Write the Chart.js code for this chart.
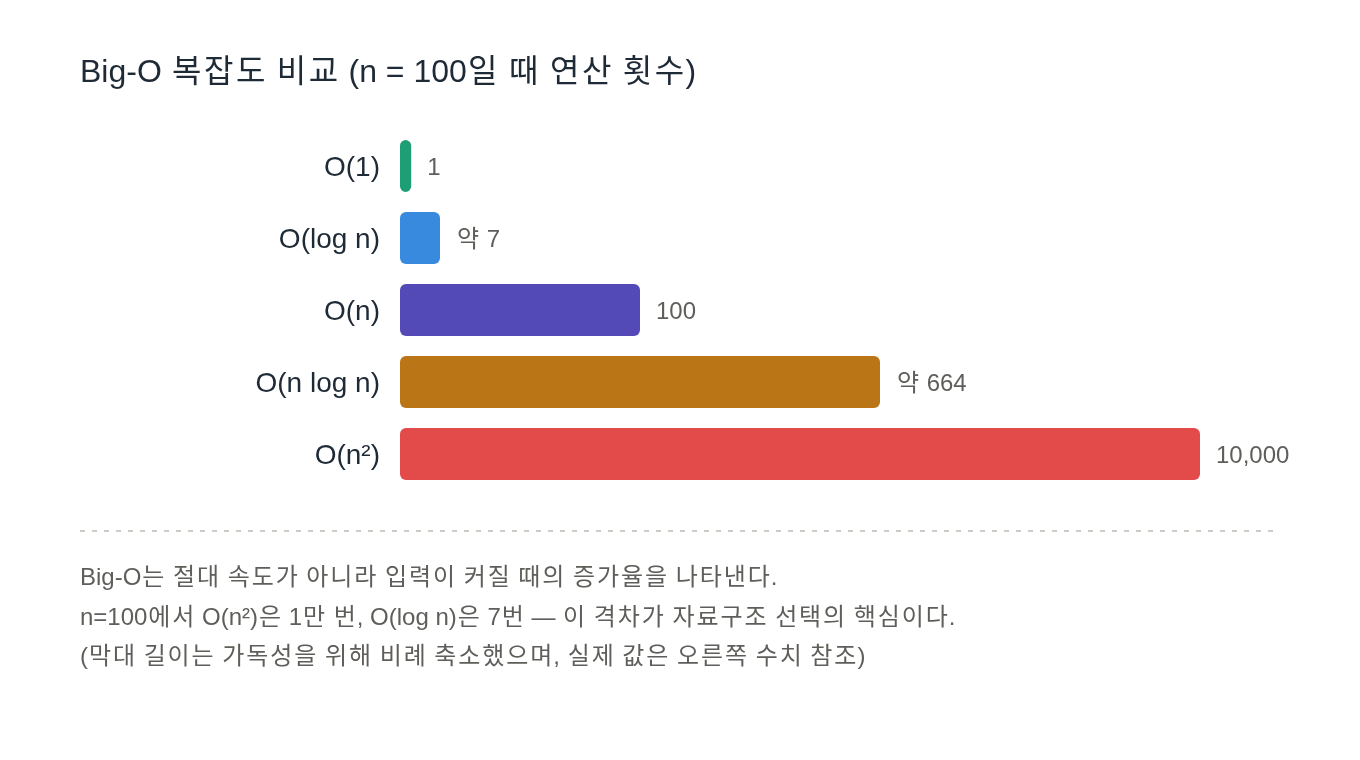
<!DOCTYPE html>
<html>
<head>
<meta charset="utf-8">
<script src="https://cdn.jsdelivr.net/npm/chart.js@4.4.1/dist/chart.umd.min.js"></script>
<style>
  html, body { margin: 0; padding: 0; background: #ffffff; }
  body { width: 1360px; height: 760px; position: relative; overflow: hidden;
         font-family: "Liberation Sans", "Noto Sans CJK KR", sans-serif; }
  #title { position: absolute; left: 80px; top: 51px; font-size: 32px; line-height: 40px;
           color: #1f2a37; white-space: nowrap; }
  #chartWrap { position: absolute; left: 0; top: 0; width: 1360px; height: 760px; }
  #divider { position: absolute; left: 80px; top: 530px; }
  #note { position: absolute; left: 80px; top: 557px; font-size: 24px; line-height: 39.6px;
          color: #5f5e5a; white-space: nowrap; }
</style>
</head>
<body>
<div id="chartWrap"><canvas id="c" width="1360" height="760"></canvas></div>
<div id="title">Big-O 복잡도 비교 (n = 100일 때 연산 횟수)</div>
<svg id="divider" width="1200" height="4"><line x1="0" y1="1" x2="1195" y2="1" stroke="#cccbc6" stroke-width="2" stroke-dasharray="5 7"/></svg>
<div id="note">Big-O는 절대 속도가 아니라 입력이 커질 때의 증가율을 나타낸다.<br>n=100에서 O(n²)은 1만 번, O(log n)은 7번 — 이 격차가 자료구조 선택의 핵심이다.<br>(막대 길이는 가독성을 위해 비례 축소했으며, 실제 값은 오른쪽 수치 참조)</div>
<script>
// ---- data ----
const categories = ['O(1)', 'O(log n)', 'O(n)', 'O(n log n)', 'O(n²)'];
const barLengths = [1.4, 5, 30, 60, 100];          // scaled (display) lengths
const valueLabels = ['1', '약 7', '100', '약 664', '10,000']; // actual operation counts
const barColors = ['#1d9e75', '#378add', '#534ab7', '#ba7517', '#e24b4a'];

const FONT = '"Liberation Sans", "Noto Sans CJK KR", sans-serif';
const HANGUL = /[\uAC00-\uD7A3\u3131-\u318E]/;

// Hangul in the reference sits in a full 1em cell; measure ours and pad evenly.
const mctx = document.createElement('canvas').getContext('2d');
mctx.font = '100px ' + FONT;
const hangulAdvance = mctx.measureText('가').width / 100;
const hangulPad = Math.max(0, 1 - hangulAdvance);

function wrapHangul(el) {
  const walker = document.createTreeWalker(el, NodeFilter.SHOW_TEXT);
  const nodes = [];
  while (walker.nextNode()) nodes.push(walker.currentNode);
  nodes.forEach(node => {
    const parts = node.textContent.split(/([\uAC00-\uD7A3\u3131-\u318E]+)/);
    if (parts.length === 1) return;
    const frag = document.createDocumentFragment();
    parts.forEach(p => {
      if (!p) return;
      if (HANGUL.test(p)) {
        const s = document.createElement('span');
        s.style.letterSpacing = hangulPad + 'em';
        s.style.marginLeft = (hangulPad / 2) + 'em';
        s.style.marginRight = (-hangulPad / 2) + 'em';
        s.textContent = p;
        frag.appendChild(s);
      } else {
        frag.appendChild(document.createTextNode(p));
      }
    });
    node.parentNode.replaceChild(frag, node);
  });
}
wrapHangul(document.getElementById('title'));
wrapHangul(document.getElementById('note'));

function drawMixedText(ctx, text, x, y, size) {
  let cx = x;
  for (const ch of text) {
    const w = ctx.measureText(ch).width;
    if (HANGUL.test(ch)) {
      ctx.fillText(ch, cx + hangulPad * size / 2, y);
      cx += w + hangulPad * size;
    } else {
      ctx.fillText(ch, cx, y);
      cx += w;
    }
  }
}

const valueLabelPlugin = {
  id: 'valueLabels',
  afterDatasetsDraw(chart) {
    const ctx = chart.ctx;
    const meta = chart.getDatasetMeta(0);
    ctx.save();
    ctx.font = '24px ' + FONT;
    ctx.fillStyle = '#5f5e5a';
    ctx.textAlign = 'left';
    ctx.textBaseline = 'middle';
    meta.data.forEach((bar, i) => {
      drawMixedText(ctx, valueLabels[i], bar.x + 16, bar.y + 2, 24);
    });
    ctx.restore();
  }
};

new Chart(document.getElementById('c'), {
  type: 'bar',
  data: {
    labels: categories,
    datasets: [{
      data: barLengths,
      backgroundColor: barColors,
      borderRadius: 6,
      borderSkipped: false
    }]
  },
  options: {
    indexAxis: 'y',
    responsive: false,
    devicePixelRatio: 1,
    animation: false,
    layout: { padding: { left: 0, right: 160, top: 130, bottom: 270 } },
    plugins: { legend: { display: false }, tooltip: { enabled: false }, title: { display: false } },
    scales: {
      x: { display: false, min: 0, max: 100 },
      y: {
        grid: { display: false, drawTicks: false },
        border: { display: false },
        ticks: { color: '#1f2a37', padding: 20, labelOffset: 2, font: { size: 28, family: FONT } },
        afterFit(scale) { scale.width = 400; }
      }
    }
  },
  plugins: [valueLabelPlugin]
});
</script>
</body>
</html>
